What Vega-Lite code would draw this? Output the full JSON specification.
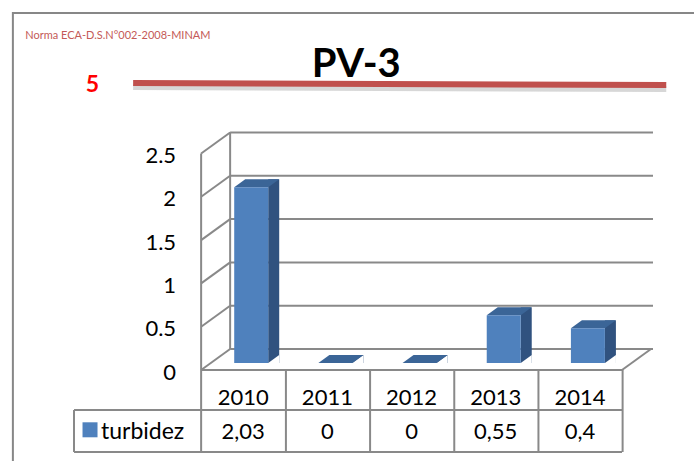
{
  "$schema": "https://vega.github.io/schema/vega-lite/v6.json",
  "width": 694,
  "height": 461,
  "autosize": "none",
  "padding": 0,
  "background": "white",
  "config": {
    "view": {"stroke": null},
    "font": "Lato",
    "locale": {"number": {"decimal": ",", "thousands": ".", "grouping": [3], "currency": ["", " €"]}}
  },
  "datasets": {
    "ticks": [{"t": 0}, {"t": 0.5}, {"t": 1}, {"t": 1.5}, {"t": 2}, {"t": 2.5}]
  },
  "data": {"values": [
    {"year": 2010, "turbidez": 2.03},
    {"year": 2011, "turbidez": 0},
    {"year": 2012, "turbidez": 0},
    {"year": 2013, "turbidez": 0.55},
    {"year": 2014, "turbidez": 0.4}
  ]},
  "layer": [
    {
      "data": {"values": [{}]},
      "mark": {"type": "rect", "filled": false, "stroke": "#878787", "strokeWidth": 2},
      "encoding": {
        "x": {"datum": 2007.2637, "type": "quantitative", "scale": {"domain": [2007.17, 2015.296], "nice": false, "zero": false}, "axis": null},
        "x2": {"datum": 2015.5},
        "y": {"datum": 4.1224, "type": "quantitative", "scale": {"domain": [-1.0508, 4.2725], "nice": false, "zero": false}, "axis": null},
        "y2": {"datum": -1.2}
      }
    },
    {
      "data": {"values": [{}]},
      "mark": {"type": "text", "text": "Norma ECA-D.S.N°002-2008-MINAM", "align": "left", "baseline": "alphabetic", "fontSize": 11, "color": "#c45a57"},
      "encoding": {
        "x": {"datum": 2007.41, "type": "quantitative", "axis": null},
        "y": {"datum": 3.819, "type": "quantitative", "axis": null}
      }
    },
    {
      "data": {"values": [{}]},
      "mark": {"type": "text", "text": "5", "align": "center", "baseline": "alphabetic", "fontSize": 23, "fontWeight": "bold", "color": "#ff0000"},
      "encoding": {
        "x": {"datum": 2008.21, "type": "quantitative", "axis": null},
        "y": {"datum": 3.2136, "type": "quantitative", "axis": null}
      }
    },
    {
      "data": {"values": [{}]},
      "mark": {"type": "rule", "color": "#bdbdbd", "strokeWidth": 6, "opacity": 0.6, "yOffset": 4, "y2Offset": 4},
      "encoding": {
        "x": {"datum": 2008.692, "type": "quantitative", "axis": null},
        "x2": {"datum": 2015.026},
        "y": {"datum": 3.314, "type": "quantitative", "axis": null},
        "y2": {"datum": 3.291}
      }
    },
    {
      "data": {"values": [{}]},
      "mark": {"type": "rule", "color": "#c0504d", "strokeWidth": 6},
      "encoding": {
        "x": {"datum": 2008.692, "type": "quantitative", "axis": null},
        "x2": {"datum": 2015.026},
        "y": {"datum": 3.314, "type": "quantitative", "axis": null},
        "y2": {"datum": 3.291}
      }
    },
    {
      "data": {"values": [{}]},
      "mark": {"type": "text", "text": "PV-3", "align": "center", "baseline": "alphabetic", "fontSize": 40, "fontWeight": "bold", "color": "#000000"},
      "encoding": {
        "x": {"datum": 2011.344, "type": "quantitative", "axis": null},
        "y": {"datum": 3.383, "type": "quantitative", "axis": null}
      }
    },
    {
      "data": {"name": "ticks"},
      "mark": {"type": "text", "fontSize": 22, "color": "#000000", "align": "right", "baseline": "middle", "xOffset": -25, "yOffset": 2.5},
      "encoding": {
        "x": {"datum": 2009.5, "type": "quantitative", "axis": null},
        "y": {"field": "t", "type": "quantitative", "axis": null},
        "text": {"field": "t", "type": "nominal"}
      }
    },
    {
      "data": {"name": "ticks"},
      "mark": {"type": "rule", "color": "#898989", "strokeWidth": 2, "xOffset": 29, "x2Offset": 31, "yOffset": -21},
      "encoding": {
        "x": {"datum": 2009.5, "type": "quantitative", "axis": null},
        "x2": {"datum": 2014.5},
        "y": {"field": "t", "type": "quantitative", "axis": null}
      }
    },
    {
      "data": {"name": "ticks"},
      "mark": {"type": "rule", "color": "#898989", "strokeWidth": 2, "x2Offset": 29, "y2Offset": -21},
      "encoding": {
        "x": {"datum": 2009.5, "type": "quantitative", "axis": null},
        "x2": {"datum": 2009.5},
        "y": {"field": "t", "type": "quantitative", "axis": null},
        "y2": {"field": "t"}
      }
    },
    {
      "data": {"values": [{}]},
      "mark": {"type": "rule", "color": "#898989", "strokeWidth": 2, "xOffset": 29, "yOffset": -21, "y2Offset": -21},
      "encoding": {
        "x": {"datum": 2009.5, "type": "quantitative", "axis": null},
        "y": {"datum": 0, "type": "quantitative", "axis": null},
        "y2": {"datum": 2.5}
      }
    },
    {
      "data": {"values": [{}]},
      "mark": {"type": "rule", "color": "#898989", "strokeWidth": 2, "x2Offset": 29, "y2Offset": -21},
      "encoding": {
        "x": {"datum": 2014.5, "type": "quantitative", "axis": null},
        "x2": {"datum": 2014.5},
        "y": {"datum": 0, "type": "quantitative", "axis": null},
        "y2": {"datum": 0}
      }
    },
    {
      "data": {"values": [{}]},
      "mark": {"type": "rule", "color": "#898989", "strokeWidth": 2},
      "encoding": {
        "x": {"datum": 2009.5, "type": "quantitative", "axis": null},
        "y": {"datum": -0.9469, "type": "quantitative", "axis": null},
        "y2": {"datum": 2.5}
      }
    },
    {
      "data": {"values": [{}]},
      "mark": {"type": "rule", "color": "#898989", "strokeWidth": 2},
      "encoding": {
        "x": {"datum": 2009.5, "type": "quantitative", "axis": null},
        "x2": {"datum": 2014.5},
        "y": {"datum": 0, "type": "quantitative", "axis": null}
      }
    },
    {
      "data": {"values": [{}]},
      "mark": {"type": "rule", "color": "#898989", "strokeWidth": 2},
      "encoding": {
        "x": {"datum": 2007.99, "type": "quantitative", "axis": null},
        "x2": {"datum": 2014.5},
        "y": {"datum": -0.4619, "type": "quantitative", "axis": null}
      }
    },
    {
      "data": {"values": [{}]},
      "mark": {"type": "rule", "color": "#898989", "strokeWidth": 2},
      "encoding": {
        "x": {"datum": 2007.99, "type": "quantitative", "axis": null},
        "x2": {"datum": 2014.5},
        "y": {"datum": -0.9469, "type": "quantitative", "axis": null}
      }
    },
    {
      "data": {"values": [{}]},
      "mark": {"type": "rule", "color": "#898989", "strokeWidth": 2},
      "encoding": {
        "x": {"datum": 2007.99, "type": "quantitative", "axis": null},
        "y": {"datum": -0.4619, "type": "quantitative", "axis": null},
        "y2": {"datum": -0.9469}
      }
    },
    {
      "mark": {"type": "rule", "color": "#898989", "strokeWidth": 2, "xOffset": 42.7},
      "encoding": {
        "x": {"field": "year", "type": "quantitative", "axis": null},
        "y": {"datum": 0, "type": "quantitative", "axis": null},
        "y2": {"datum": -0.9469}
      }
    },
    {
      "mark": {"type": "bar", "color": "#30527f", "width": 11, "xOffset": 30.5, "yOffset": -15, "y2Offset": -7},
      "encoding": {
        "x": {"field": "year", "type": "quantitative", "axis": null},
        "y": {"field": "turbidez", "type": "quantitative", "axis": null},
        "y2": {"datum": 0}
      }
    },
    {
      "mark": {"type": "point", "shape": "M 0 0 L 11 0 L 11 -8 Z", "size": 4, "filled": true, "opacity": 1, "color": "white", "strokeWidth": 0, "xOffset": 25, "yOffset": -7},
      "encoding": {
        "x": {"field": "year", "type": "quantitative", "axis": null},
        "y": {"datum": 0, "type": "quantitative", "axis": null}
      }
    },
    {
      "mark": {"type": "point", "shape": "M -17 0 L 17 0 L 28 -8 L -6 -8 Z", "size": 4, "filled": true, "opacity": 1, "color": "#3b6597", "strokeWidth": 0, "xOffset": 8, "yOffset": -7},
      "encoding": {
        "x": {"field": "year", "type": "quantitative", "axis": null},
        "y": {"field": "turbidez", "type": "quantitative", "axis": null}
      }
    },
    {
      "mark": {"type": "bar", "color": "#4f81bd", "width": 34, "xOffset": 8, "yOffset": -7, "y2Offset": -7},
      "encoding": {
        "x": {"field": "year", "type": "quantitative", "axis": null},
        "y": {"field": "turbidez", "type": "quantitative", "axis": null},
        "y2": {"datum": 0}
      }
    },
    {
      "mark": {"type": "text", "fontSize": 22, "color": "#000000", "align": "center", "baseline": "alphabetic"},
      "encoding": {
        "x": {"field": "year", "type": "quantitative", "axis": null},
        "y": {"datum": -0.404, "type": "quantitative", "axis": null},
        "text": {"field": "year", "type": "nominal"}
      }
    },
    {
      "mark": {"type": "text", "fontSize": 22, "color": "#000000", "align": "center", "baseline": "alphabetic"},
      "encoding": {
        "x": {"field": "year", "type": "quantitative", "axis": null},
        "y": {"datum": -0.8, "type": "quantitative", "axis": null},
        "text": {"field": "turbidez", "type": "quantitative", "format": ".2~f"}
      }
    },
    {
      "data": {"values": [{}]},
      "mark": {"type": "point", "shape": "square", "size": 225, "filled": true, "opacity": 1, "color": "#4f81bd", "strokeWidth": 0},
      "encoding": {
        "x": {"datum": 2008.18, "type": "quantitative", "axis": null},
        "y": {"datum": -0.6905, "type": "quantitative", "axis": null}
      }
    },
    {
      "data": {"values": [{}]},
      "mark": {"type": "text", "text": "turbidez", "fontSize": 23, "color": "#000000", "align": "left", "baseline": "alphabetic"},
      "encoding": {
        "x": {"datum": 2008.31, "type": "quantitative", "axis": null},
        "y": {"datum": -0.8, "type": "quantitative", "axis": null}
      }
    }
  ]
}
